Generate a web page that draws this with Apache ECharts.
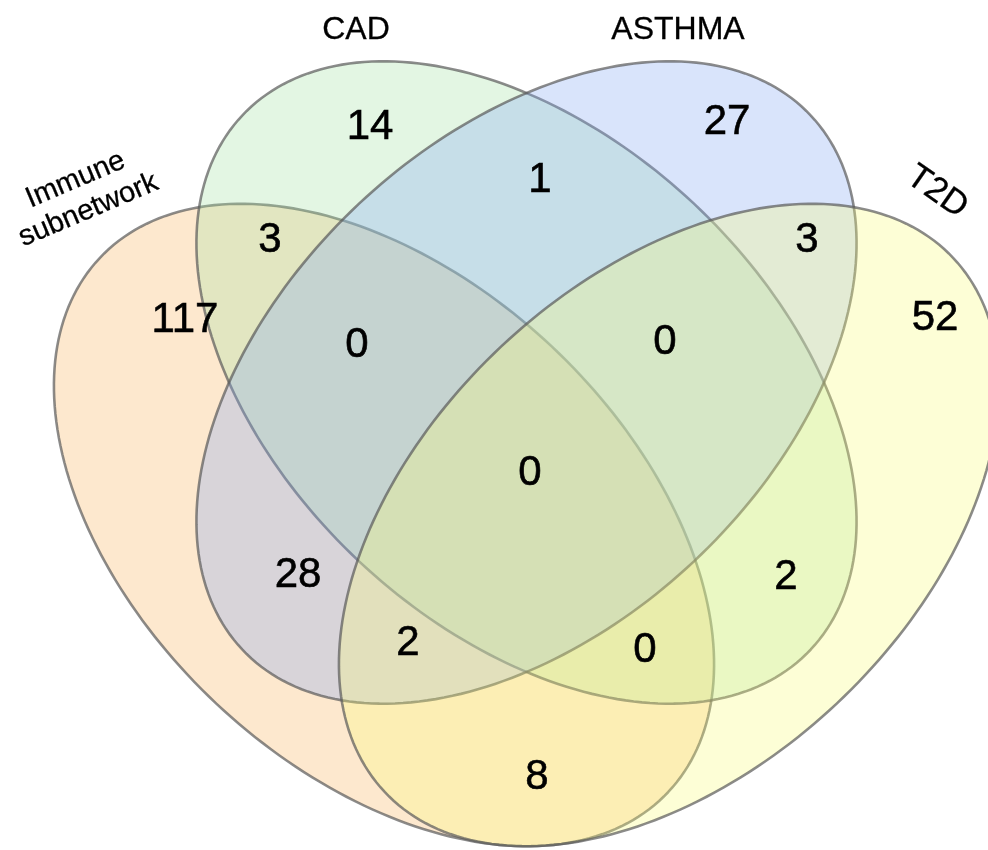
<!DOCTYPE html>
<html>
<head>
<meta charset="utf-8">
<title>Venn</title>
<script src="https://cdn.jsdelivr.net/npm/echarts@6/dist/echarts.min.js"></script>
<style>
  html, body { margin: 0; padding: 0; background: #fff; }
  #main { width: 988px; height: 850px; }
</style>
</head>
<body>
<div id="main"></div>
<script>
// set names and counts per region (I = Immune, C = CAD, A = ASTHMA, T = T2D)
const setNames = ['Immune\nsubnetwork', 'CAD', 'ASTHMA', 'T2D'];
const regionKeys = ['I', 'C', 'A', 'T', 'IC', 'CA', 'AT', 'ICA', 'CAT', 'ICAT', 'IA', 'CT', 'IAT', 'ICT', 'IT'];
const regionCounts = [117, 14, 27, 52, 3, 1, 3, 0, 0, 0, 28, 2, 2, 0, 8];

// layout (in plot units, y downwards)
const ellipseLayout = [
  { cx: 384, cy: 525, a: 390, b: 245, angle: 43.2 },    // Immune
  { cx: 526.5, cy: 382.5, a: 390, b: 245, angle: 43.2 }, // CAD
  { cx: 526.5, cy: 382.5, a: 390, b: 245, angle: -43.2 },// ASTHMA
  { cx: 669, cy: 525, a: 390, b: 245, angle: -43.2 }     // T2D
];
const ellipseColors = ['#F8B25C', '#A2E1A2', '#80A5F2', '#F8FC76'];
const regionPos = {
  I: [185, 320], C: [370, 127], A: [727, 122], T: [935, 318],
  IC: [270, 240], CA: [540, 180], AT: [807, 240],
  ICA: [357, 345], CAT: [665, 342], ICAT: [530, 473],
  IA: [298, 575], CT: [786, 577], IAT: [408, 643], ICT: [645, 650], IT: [537, 777]
};
// x, y, rotation (deg, ccw), font size
const namePos = [[82, 195, 23, 29], [356, 30, 0, 32], [678, 30, 0, 32], [937, 192, -35, 35]];

const FONT = 'Liberation Sans, Arial, sans-serif';
const chart = echarts.init(document.getElementById('main'));

function ellipsePoints(e, api) {
  const pts = [];
  const t = e.angle * Math.PI / 180;
  for (let i = 0; i < 240; i++) {
    const p = i / 240 * Math.PI * 2;
    const u = e.a * Math.cos(p), v = e.b * Math.sin(p);
    const x = e.cx + u * Math.cos(t) - v * Math.sin(t);
    const y = e.cy + u * Math.sin(t) + v * Math.cos(t);
    pts.push(api.coord([x, y]));
  }
  return pts;
}

chart.setOption({
  animation: false,
  grid: { left: 0, right: 0, top: 0, bottom: 0 },
  xAxis: { type: 'value', min: 0, max: 988, show: false },
  yAxis: { type: 'value', min: 0, max: 850, inverse: true, show: false },
  series: [
    {
      // the four sets
      type: 'custom',
      silent: true,
      clip: false,
      data: ellipseLayout.map((e, i) => [i]),
      renderItem: function (params, api) {
        const i = api.value(0);
        return {
          type: 'polygon',
          shape: { points: ellipsePoints(ellipseLayout[i], api) },
          style: {
            fill: ellipseColors[i],
            fillOpacity: 0.3,
            stroke: 'rgba(90,90,90,0.7)',
            lineWidth: 2.6
          }
        };
      }
    },
    {
      // counts per region
      type: 'custom',
      silent: true,
      clip: false,
      data: regionKeys.map((k, i) => [regionPos[k][0], regionPos[k][1], regionCounts[i]]),
      renderItem: function (params, api) {
        const p = api.coord([api.value(0), api.value(1)]);
        return {
          type: 'text',
          x: p[0], y: p[1],
          style: {
            text: String(api.value(2)),
            fill: '#000',
            stroke: '#000',
            lineWidth: 0.6,
            font: '42px ' + FONT,
            align: 'center',
            verticalAlign: 'middle'
          }
        };
      }
    },
    {
      // set names
      type: 'custom',
      silent: true,
      clip: false,
      data: setNames.map((n, i) => [namePos[i][0], namePos[i][1], i]),
      renderItem: function (params, api) {
        const i = api.value(2);
        const p = api.coord([api.value(0), api.value(1)]);
        const fs = namePos[i][3];
        return {
          type: 'text',
          x: p[0], y: p[1],
          rotation: namePos[i][2] * Math.PI / 180,
          style: {
            text: setNames[i],
            fill: '#000',
            stroke: '#000',
            lineWidth: 0.3,
            font: fs + 'px ' + FONT,
            lineHeight: fs + 4,
            align: 'center',
            verticalAlign: 'middle'
          }
        };
      }
    }
  ]
});
</script>
</body>
</html>
